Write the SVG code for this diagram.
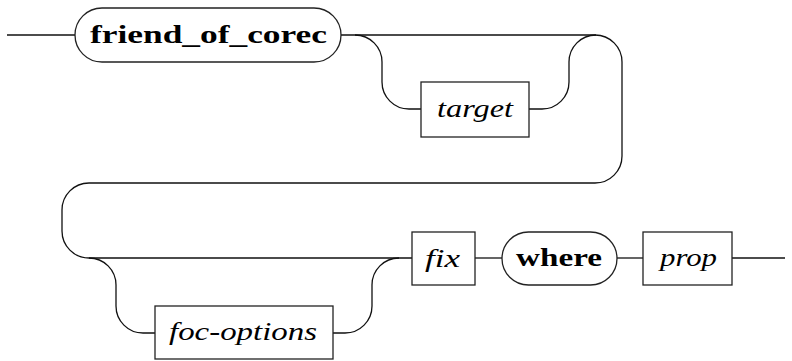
<svg xmlns="http://www.w3.org/2000/svg" width="792" height="361" viewBox="0 0 792 361">
<style>
.c{fill:none;stroke:#111;stroke-width:1.3}
.b{fill:#fff;stroke:#222;stroke-width:1.3}
text{font-size:25px;fill:#000}
.k{font-weight:bold}
.i{font-style:italic}
</style>
<rect width="792" height="361" fill="#fff"/>
<g id="connectors">
<path class="c" d="M7,35 H75"/>
<path class="c" d="M341,35 H595 A27,27 0 0 1 622,62 V156 A27,27 0 0 1 595,183 H89 A27,27 0 0 0 62,210 V231 A27,27 0 0 0 89,258 H412"/>
<path class="c" d="M355,35 A27,27 0 0 1 382,62 V82 A27,27 0 0 0 409,109 H421"/>
<path class="c" d="M529,109 H542 A27,27 0 0 0 569,82 V62 A27,27 0 0 1 596,35"/>
<path class="c" d="M89,258 A27,27 0 0 1 116,285 V306 A27,27 0 0 0 143,333 H155"/>
<path class="c" d="M333,333 H345 A27,27 0 0 0 372,306 V285 A27,27 0 0 1 399,258"/>
<path class="c" d="M475,258 H502"/>
<path class="c" d="M617,258 H643"/>
<path class="c" d="M732,258 H785"/>
</g>
<g id="friend_of_corec">
<rect class="b" x="75" y="8" width="266" height="54" rx="27"/>
<text class="k" font-family="'Liberation Serif', 'Times New Roman', Times, serif" x="90" y="43" textLength="237" lengthAdjust="spacingAndGlyphs">friend_of_corec</text>
</g>
<g id="target">
<rect class="b" x="421" y="82" width="108" height="55"/>
<text class="i" font-family="'Liberation Serif', 'Times New Roman', Times, serif" x="437" y="117" textLength="76" lengthAdjust="spacingAndGlyphs">target</text>
</g>
<g id="fix">
<rect class="b" x="412" y="232" width="63" height="53"/>
<text class="i" font-family="'Liberation Serif', 'Times New Roman', Times, serif" x="425" y="267" textLength="35" lengthAdjust="spacingAndGlyphs">fix</text>
</g>
<g id="where">
<rect class="b" x="502" y="232" width="115" height="53" rx="26.5"/>
<text class="k" font-family="'Liberation Serif', 'Times New Roman', Times, serif" x="516" y="266" textLength="86" lengthAdjust="spacingAndGlyphs">where</text>
</g>
<g id="prop">
<rect class="b" x="643" y="232" width="89" height="53"/>
<text class="i" font-family="'Liberation Serif', 'Times New Roman', Times, serif" x="660" y="266" textLength="57" lengthAdjust="spacingAndGlyphs">prop</text>
</g>
<g id="foc-options">
<rect class="b" x="155" y="306" width="178" height="53"/>
<text class="i" font-family="'Liberation Serif', 'Times New Roman', Times, serif" x="169" y="340" textLength="148" lengthAdjust="spacingAndGlyphs">foc-options</text>
</g>
</svg>
